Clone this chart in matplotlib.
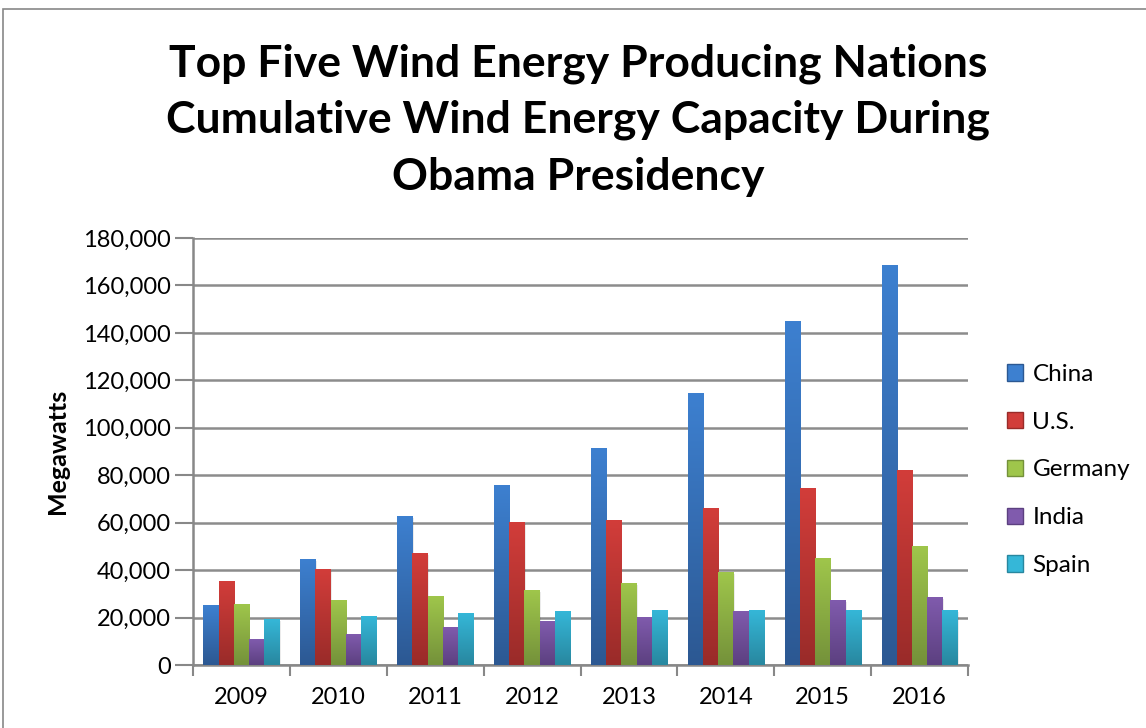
import matplotlib.pyplot as plt
import numpy as np
from matplotlib.patches import Patch, Rectangle
from matplotlib.colors import LinearSegmentedColormap
from matplotlib.ticker import FuncFormatter

years = ["2009", "2010", "2011", "2012", "2013", "2014", "2015", "2016"]
countries = ["China", "U.S.", "Germany", "India", "Spain"]
china = [25200, 44600, 62700, 75800, 91400, 114600, 145000, 168700]
us = [35300, 40400, 47100, 60200, 61100, 66100, 74500, 82200]
germany = [25600, 27300, 29000, 31500, 34500, 39100, 45000, 50000]
india = [10900, 13000, 15900, 18400, 20100, 22600, 27300, 28600]
spain = [19300, 20600, 21800, 22700, 23000, 23000, 23000, 23000]

top_colors = ["#3d80d0", "#d23d3a", "#9fc64b", "#805bad", "#35b7d8"]
bot_colors = ["#2c5892", "#992b29", "#74913a", "#5c4080", "#28879f"]

plt.rcParams['font.family'] = ['Lato', 'DejaVu Sans']

fig = plt.figure(figsize=(11.46, 7.28), dpi=100)
# outer chart frame
fig.patches.append(Rectangle((3 / 1146, -0.01), 1.1, 1 - 9 / 728 + 0.01,
                             transform=fig.transFigure, fill=False,
                             edgecolor="#888888", linewidth=1.2))

ax = fig.add_axes([193 / 1146, 1 - 665 / 728, 775 / 1146, 427 / 728])

series = [china, us, germany, india, spain]
x = np.arange(len(years))
width = 0.157
for i, vals in enumerate(series):
    off = (i - 2) * width
    bars = ax.bar(x + off, vals, width, color=top_colors[i], zorder=3,
                  linewidth=0)
    cmap = LinearSegmentedColormap.from_list("g", [bot_colors[i], top_colors[i]])
    for b in bars:
        bx, bw, bh = b.get_x(), b.get_width(), b.get_height()
        # soft shadow
        ax.add_patch(Rectangle((bx + 0.012, 0), bw, bh - 600, color="#000000",
                               alpha=0.08, zorder=2, linewidth=0))
        im = ax.imshow(np.linspace(0, 1, 256).reshape(-1, 1), cmap=cmap,
                       extent=(bx, bx + bw, 0, bh), origin="lower",
                       aspect="auto", zorder=3.5)
        im.set_clip_path(b)

ax.set_xlim(-0.5, len(years) - 0.5)
ax.set_ylim(0, 180000)
ax.set_yticks(np.arange(0, 180001, 20000))
ax.yaxis.set_major_formatter(FuncFormatter(lambda v, p: f"{int(v):,}"))
ax.set_xticks(x)
ax.set_xticklabels(years)
ax.set_xticks(np.arange(-0.5, len(years)), minor=True)
ax.tick_params(axis="x", which="major", length=0, pad=16, labelsize=17)
ax.tick_params(axis="x", which="minor", length=8, width=1.5, color="#888888")
ax.tick_params(axis="y", length=13, width=1.5, color="#888888", pad=3,
               labelsize=17)
ax.grid(axis="y", color="#8c8c8c", linewidth=1.8, zorder=1)
for s in ["top", "right"]:
    ax.spines[s].set_visible(False)
for s in ["left", "bottom"]:
    ax.spines[s].set_color("#888888")
    ax.spines[s].set_linewidth(1.8)

ax.set_ylabel("Megawatts", fontsize=18, fontweight="bold", labelpad=10)

fig.text(0.5045, 1 - 120 / 728,
         "Top Five Wind Energy Producing Nations\nCumulative Wind Energy Capacity During\nObama Presidency",
         ha="center", va="center", fontsize=32, fontweight="bold",
         linespacing=1.5)

handles = [Patch(facecolor=top_colors[i], edgecolor=bot_colors[i])
           for i in range(5)]
fig.legend(handles, countries, loc="center left",
           bbox_to_anchor=(985 / 1146, 1 - 470 / 728), frameon=False,
           fontsize=17.5, handlelength=0.65, handleheight=0.65,
           handletextpad=0.4, labelspacing=1.1)

fig.savefig("out.png", dpi=100)
